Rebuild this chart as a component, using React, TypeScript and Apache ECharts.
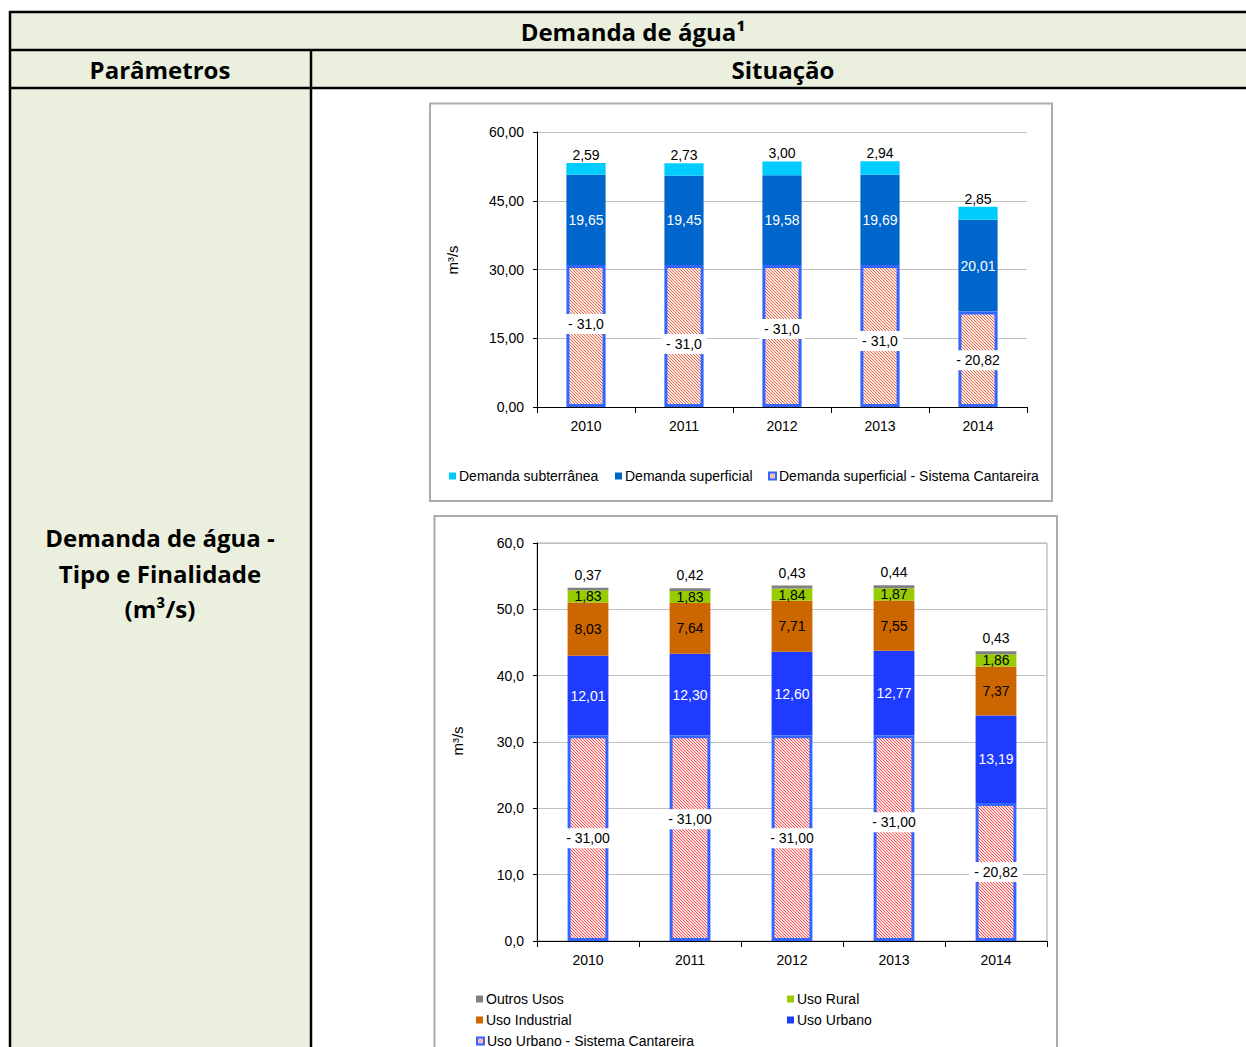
import React, { useEffect, useRef } from 'react';
import * as echarts from 'echarts';

// ---------- data ----------
const YEARS = ['2010', '2011', '2012', '2013', '2014'];

// chart 1 (tipo)
const CANTAREIRA_1 = [31, 31, 31, 31, 20.82];
const SUPERFICIAL = [19.65, 19.45, 19.58, 19.69, 20.01];
const SUBTERRANEA = [2.59, 2.73, 3.0, 2.94, 2.85];

// chart 2 (finalidade)
const CANTAREIRA_2 = [31, 31, 31, 31, 20.82];
const URBANO = [12.01, 12.3, 12.6, 12.77, 13.19];
const INDUSTRIAL = [8.03, 7.64, 7.71, 7.55, 7.37];
const RURAL = [1.83, 1.83, 1.84, 1.87, 1.86];
const OUTROS = [0.37, 0.42, 0.43, 0.44, 0.43];

const Y1 = { min: 0, max: 60, interval: 15 };
const Y2 = { min: 0, max: 60, interval: 10 };

// label nudges for the Cantareira labels (layout, px)
const SHIFT_1 = [-12, 8, -7, 5, 1];
const SHIFT_2 = [0, -19, 0, -16, 0];

// ---------- styles ----------
const FONT = '"Liberation Sans", Arial, sans-serif';
const TFONT = '"Open Sans", Lato, sans-serif';
const HEAD_BG = '#EBF0DE';

const fmt = (v: number, d: number) => v.toFixed(d).replace('.', ',');
const fmtCant1 = (v: number) => '- ' + (Number.isInteger(v) ? fmt(v, 1) : fmt(v, 2));
const fmtCant2 = (v: number) => '- ' + fmt(v, 2);

function hatch(color: string, bg: string) {
  const c = document.createElement('canvas');
  c.width = 3;
  c.height = 3;
  const ctx = c.getContext('2d')!;
  ctx.fillStyle = bg;
  ctx.fillRect(0, 0, 3, 3);
  ctx.fillStyle = color;
  for (let i = 0; i < 3; i++) ctx.fillRect(i, i, 1, 1);
  return { image: c, repeat: 'repeat' } as any;
}

export default function App() {
  const ref = useRef<HTMLDivElement>(null);
  useEffect(() => {
    if (!ref.current) return;
    const chart = echarts.init(ref.current, undefined, { renderer: 'svg' });

    const cantLabel = (shift: number[], f: (v: number) => string) => (v: number, i: number) => ({
      value: v,
      label: {
        show: true,
        position: 'inside',
        offset: [0, shift[i]],
        formatter: () => f(v),
        color: '#000',
        backgroundColor: '#fff',
        padding: [3, 5],
        fontSize: 14,
        fontFamily: FONT,
      },
    });

    const baseLabel = (color: string, pos: string, d: number, dist = 5) => ({
      show: true,
      position: pos,
      distance: dist,
      color,
      fontSize: 14,
      fontFamily: FONT,
      formatter: (p: any) => fmt(p.value, d),
    });

    const yAxisCommon = (cfg: any, gridIndex: number, dec: number) => ({
      type: 'value',
      gridIndex,
      min: cfg.min,
      max: cfg.max,
      interval: cfg.interval,
      axisLine: { show: true, lineStyle: { color: '#000', width: 1 } },
      axisTick: { show: true, length: 4, lineStyle: { color: '#000' } },
      axisLabel: { fontFamily: FONT, fontSize: 14, color: '#000', margin: 13, formatter: (v: number) => fmt(v, dec) },
      splitLine: { show: true, lineStyle: { color: '#BFBFBF', width: 1 } },
    });

    const xAxisCommon = (gridIndex: number) => ({
      type: 'category',
      gridIndex,
      data: YEARS,
      axisLine: { show: true, lineStyle: { color: '#000', width: 1 } },
      axisTick: { show: true, interval: 0, length: 6, lineStyle: { color: '#000' } },
      axisLabel: { fontFamily: FONT, fontSize: 14, color: '#000', margin: 12 },
      splitLine: { show: false },
    });

    const legendItem = (name: string, left: number, top: number) => ({
      data: [name],
      left,
      top,
      itemWidth: 7,
      itemHeight: 7,
      selectedMode: false,
      icon: 'rect',
      itemStyle: { borderWidth: 2 },
      textStyle: { fontFamily: FONT, fontSize: 14, color: '#000', padding: [0, 0, 0, -2] },
    });

    const hatch1 = hatch('#E5684C', '#FCEAE4');
    const hatch2 = hatch('#FF4D4D', '#FFE6E6');

    const line = (x1: number, y1: number, x2: number, y2: number) => ({
      type: 'line',
      shape: { x1, y1, x2, y2 },
      style: { stroke: '#000', lineWidth: 2.5 },
      silent: true,
    });
    const text = (t: string, x: number, y: number) => ({
      type: 'text',
      x,
      y,
      style: {
        text: t,
        fontFamily: TFONT,
        fontWeight: 'bold',
        fontSize: 24,
        fill: '#000',
        align: 'center',
        verticalAlign: 'middle',
      },
      silent: true,
    });
    const axisName = (x: number, y: number) => ({
      type: 'text',
      x,
      y,
      rotation: Math.PI / 2,
      style: {
        text: 'm³/s',
        fontFamily: FONT,
        fontSize: 15,
        fill: '#000',
        align: 'center',
        verticalAlign: 'middle',
      },
      silent: true,
    });

    const option: any = {
      animation: false,
      backgroundColor: '#fff',
      graphic: {
        elements: [
          { type: 'rect', shape: { x: 10, y: 12, width: 1260, height: 76 }, style: { fill: HEAD_BG }, z: -10 },
          { type: 'rect', shape: { x: 10, y: 88, width: 301, height: 1000 }, style: { fill: HEAD_BG }, z: -10 },
          line(9, 12, 1260, 12),
          line(9, 50, 1260, 50),
          line(9, 88, 1260, 88),
          line(10, 11, 10, 1060),
          line(311, 50, 311, 1060),
          text('Demanda de água¹', 633, 31),
          text('Parâmetros', 160, 69),
          text('Situação', 783, 69),
          text('Demanda de água -', 160, 537),
          text('Tipo e Finalidade', 160, 573),
          text('(m³/s)', 160, 608),
          axisName(452, 260),
          axisName(457, 741),
          {
            type: 'rect',
            shape: { x: 430, y: 103.5, width: 622, height: 397.5 },
            style: { fill: 'none', stroke: '#ABABAB', lineWidth: 2 },
            silent: true,
          },
          {
            type: 'rect',
            shape: { x: 434.5, y: 516, width: 622.5, height: 560 },
            style: { fill: 'none', stroke: '#ABABAB', lineWidth: 2 },
            silent: true,
          },
        ],
      },
      grid: [
        { left: 537, top: 132, width: 490, height: 275, containLabel: false },
        { left: 537, top: 543, width: 510, height: 398, containLabel: false, show: true, borderColor: '#A6A6A6', borderWidth: 1, backgroundColor: 'transparent' },
      ],
      xAxis: [xAxisCommon(0), xAxisCommon(1)],
      yAxis: [yAxisCommon(Y1, 0, 2), yAxisCommon(Y2, 1, 1)],
      legend: [
        legendItem('Demanda subterrânea', 444, 464),
        legendItem('Demanda superficial', 610, 464),
        legendItem('Demanda superficial - Sistema Cantareira', 763, 464),
        legendItem('Outros Usos', 471, 987),
        legendItem('Uso Rural', 782, 987),
        legendItem('Uso Industrial', 471, 1008),
        legendItem('Uso Urbano', 782, 1008),
        legendItem('Uso Urbano - Sistema Cantareira', 471, 1029),
      ],
      series: [
        {
          name: 'Demanda superficial - Sistema Cantareira',
          type: 'bar',
          stack: 's1',
          xAxisIndex: 0,
          yAxisIndex: 0,
          barWidth: '40%',
          itemStyle: { color: hatch1, borderColor: '#3366FF', borderWidth: 3 },
          data: CANTAREIRA_1.map(cantLabel(SHIFT_1, fmtCant1)),
          z: 3,
        },
        {
          name: 'Demanda superficial',
          type: 'bar',
          stack: 's1',
          xAxisIndex: 0,
          yAxisIndex: 0,
          barWidth: '40%',
          itemStyle: { color: '#0066CC' },
          label: baseLabel('#fff', 'inside', 2),
          data: SUPERFICIAL,
        },
        {
          name: 'Demanda subterrânea',
          type: 'bar',
          stack: 's1',
          xAxisIndex: 0,
          yAxisIndex: 0,
          barWidth: '40%',
          itemStyle: { color: '#00CCFF' },
          label: baseLabel('#000', 'top', 2, 1),
          data: SUBTERRANEA,
        },
        {
          name: 'Uso Urbano - Sistema Cantareira',
          type: 'bar',
          stack: 's2',
          xAxisIndex: 1,
          yAxisIndex: 1,
          barWidth: '40%',
          itemStyle: { color: hatch2, borderColor: '#3366FF', borderWidth: 3 },
          data: CANTAREIRA_2.map(cantLabel(SHIFT_2, fmtCant2)),
          z: 3,
        },
        {
          name: 'Uso Urbano',
          type: 'bar',
          stack: 's2',
          xAxisIndex: 1,
          yAxisIndex: 1,
          barWidth: '40%',
          itemStyle: { color: '#1F3BFF' },
          label: baseLabel('#fff', 'inside', 2),
          data: URBANO,
        },
        {
          name: 'Uso Industrial',
          type: 'bar',
          stack: 's2',
          xAxisIndex: 1,
          yAxisIndex: 1,
          barWidth: '40%',
          itemStyle: { color: '#CC6600' },
          label: baseLabel('#000', 'inside', 2),
          data: INDUSTRIAL,
        },
        {
          name: 'Uso Rural',
          type: 'bar',
          stack: 's2',
          xAxisIndex: 1,
          yAxisIndex: 1,
          barWidth: '40%',
          itemStyle: { color: '#99CC00' },
          label: baseLabel('#000', 'inside', 2),
          data: RURAL,
        },
        {
          name: 'Outros Usos',
          type: 'bar',
          stack: 's2',
          xAxisIndex: 1,
          yAxisIndex: 1,
          barWidth: '40%',
          itemStyle: { color: '#808080' },
          label: baseLabel('#000', 'top', 2, 6),
          data: OUTROS,
        },
      ],
    };
    chart.setOption(option);
    return () => chart.dispose();
  }, []);

  return (
    <div
      ref={ref}
      style={{ position: 'fixed', left: 0, top: 0, width: 1246, height: 1047, background: '#fff' }}
    />
  );
}
